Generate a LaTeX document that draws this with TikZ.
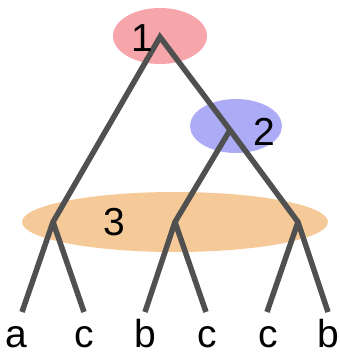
\documentclass[tikz,border=0pt]{standalone}
\usepackage{fontspec}
\setmainfont{Liberation Sans}
\definecolor{pinkfill}{RGB}{246,166,170}
\definecolor{bluefill}{RGB}{172,172,246}
\definecolor{orangefill}{RGB}{246,202,152}
\definecolor{branch}{RGB}{80,80,80}
\tikzset{
  branchline/.style={draw=branch, line width=5.5pt, line join=miter, line cap=butt},
  lbl/.style={font=\fontsize{39}{44}\selectfont, anchor=base, inner sep=0pt},
}
\begin{document}
\begin{tikzpicture}[x=1pt,y=-1pt]
\useasboundingbox (0,0) rectangle (340,354);
% ellipses
\fill[pinkfill] (160,36) ellipse [x radius=47, y radius=28];
\fill[bluefill] (236,126) ellipse [x radius=46, y radius=27];
\fill[orangefill] (175,222) ellipse [x radius=153, y radius=30];
% vertices
\coordinate (root) at (160,37);
\coordinate (n2) at (230,130);
\coordinate (L) at (53,222);
\coordinate (M) at (175,222);
\coordinate (R) at (298,222);
\coordinate (l1) at (22,312);
\coordinate (l2) at (84,312);
\coordinate (l3) at (145,312);
\coordinate (l4) at (206,312);
\coordinate (l5) at (267,312);
\coordinate (l6) at (328,312);
\draw[branchline] (l1) -- (L) -- (root) -- (n2) -- (R) -- (l6);
\draw[branchline] (L) -- (l2);
\draw[branchline] (n2) -- (M) -- (l3);
\draw[branchline] (M) -- (l4);
\draw[branchline] (R) -- (l5);
% numbers
\node[lbl] (t1) at (142,51) {1};
\node[lbl] (t2) at (264,145) {2};
\node[lbl] (t3) at (114,235) {3};
% leaves
\node[lbl] (a1) at (16,347) {a};
\node[lbl] (a2) at (84,347) {c};
\node[lbl] (a3) at (145,347) {b};
\node[lbl] (a4) at (207,347) {c};
\node[lbl] (a5) at (268,347) {c};
\node[lbl] (a6) at (328,347) {b};
\end{tikzpicture}
\end{document}
